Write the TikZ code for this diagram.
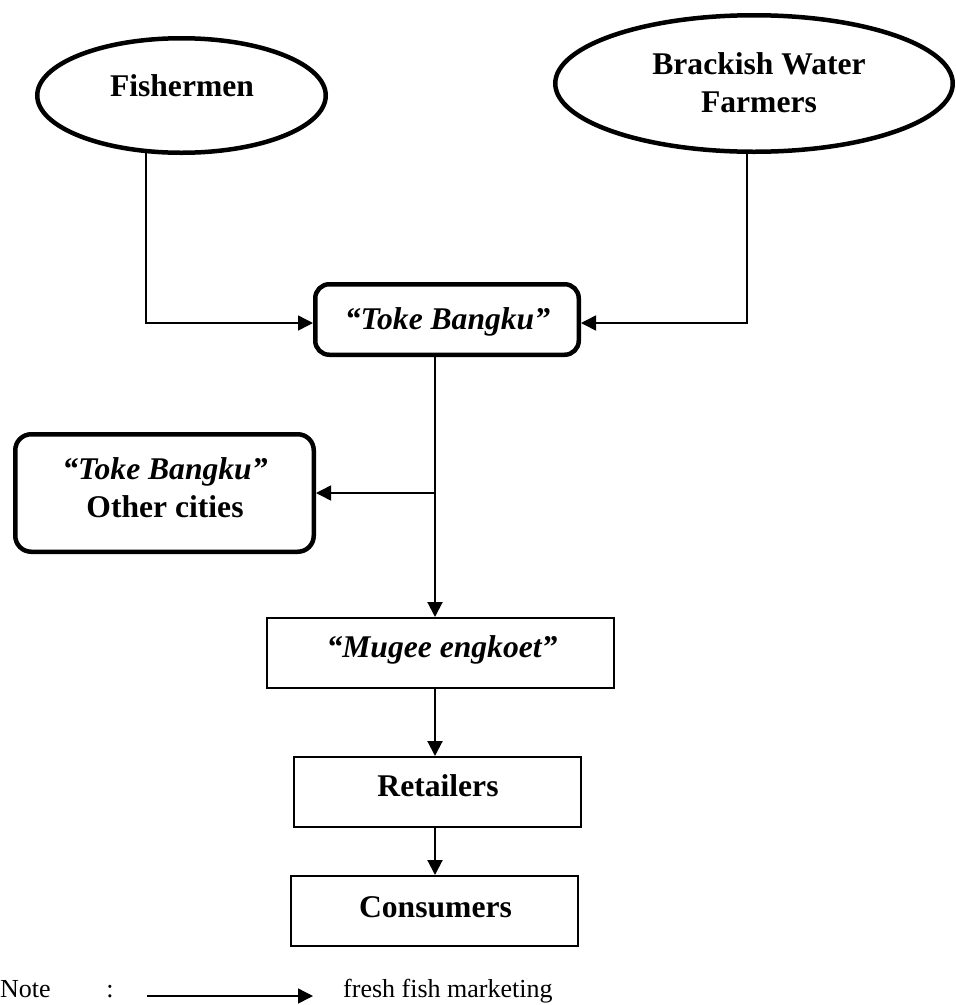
\documentclass[tikz,border=0pt]{standalone}
\usepackage{fontspec}
\setmainfont{Liberation Serif}
\usetikzlibrary{shapes.geometric,arrows.meta,backgrounds}

% label fonts
\newcommand{\labfont}{\fontsize{31.6}{37.5}\selectfont\bfseries}
\newcommand{\notefont}{\fontsize{26}{30}\selectfont}

\begin{document}
\begin{tikzpicture}[x=1pt,y=-1pt,
  oval/.style={ellipse,draw,fill=white,line width=4.5pt,inner sep=0pt},
  roundbox/.style={rectangle,draw,fill=white,line width=4.5pt,rounded corners=14pt,inner sep=0pt},
  plainbox/.style={rectangle,draw,fill=white,line width=2pt,inner sep=0pt},
  lab/.style={anchor=base,inner sep=0pt,font=\labfont,align=center},
  notetext/.style={anchor=base west,inner sep=0pt,font=\notefont},
  tip/.style={-{Triangle[length=15pt,width=15pt]}},
  flow/.style={line width=2pt,tip},
  thinflow/.style={line width=1.5pt,tip}
]
\useasboundingbox (0,0) rectangle (956,1005);

% sources
\node (fish) [oval,minimum width=288.5pt,minimum height=114.5pt] at (181.5,95.5) {};
\node (fishlab) [lab] at (182,96) {Fishermen};

\node (brack) [oval,minimum width=397.5pt,minimum height=136.5pt] at (754,83.5) {};
\node (bracklab) [lab] at (759,112) {Brackish Water\\Farmers};

% collectors
\node (toke) [roundbox,minimum width=263.5pt,minimum height=70.5pt] at (447,319.5) {};
\node (tokelab) [lab,font=\labfont\itshape] at (447.5,329) {“Toke Bangku”};

\node (other) [roundbox,rounded corners=16pt,minimum width=298.5pt,minimum height=117.5pt] at (164.5,493) {};
\node (otherlab) [lab] at (165,517) {\itshape “Toke Bangku”\\Other cities};

% distribution chain
\node (mugee) [plainbox,minimum width=347pt,minimum height=70pt] at (440.5,653) {};
\node (mugeelab) [lab,font=\labfont\itshape] at (442,657) {“Mugee engkoet”};

\node (retail) [plainbox,minimum width=287pt,minimum height=70pt] at (437.5,792) {};
\node (retaillab) [lab] at (438,796) {Retailers};

\node (cons) [plainbox,minimum width=287pt,minimum height=70pt] at (434.5,911) {};
\node (conslab) [lab] at (435.5,917) {Consumers};

% routing columns and rows
\coordinate (fishx) at (146,0);
\coordinate (brackx) at (747,0);
\coordinate (trunk) at (435,0);
\coordinate (feed) at (0,323);

% feeders start under the ovals
\begin{scope}[on background layer]
  \draw[thinflow] (fish.center -| fishx) |- (toke.west |- feed);
  \draw[thinflow] (brack.center -| brackx) |- (toke.east |- feed);
\end{scope}

\draw[flow] (toke.south -| trunk) -- (mugee.north -| trunk);
\draw[thinflow] (other.east -| trunk) -- (other.east);
\draw[flow] (mugee.south -| trunk) -- (retail.north -| trunk);
\draw[flow] (retail.south -| trunk) -- (cons.north -| trunk);

% legend
\node (note) [notetext] at (0,997) {Note};
\node (colon) [anchor=base,inner sep=0pt,font=\notefont] at (110,997) {:};
\coordinate (keystart) at (147,996);
\coordinate (keyend) at (313,996);
\draw[thinflow] (keystart) -- (keyend);
\node (keytext) [notetext] at (343,997) {fresh fish marketing};
\end{tikzpicture}
\end{document}
